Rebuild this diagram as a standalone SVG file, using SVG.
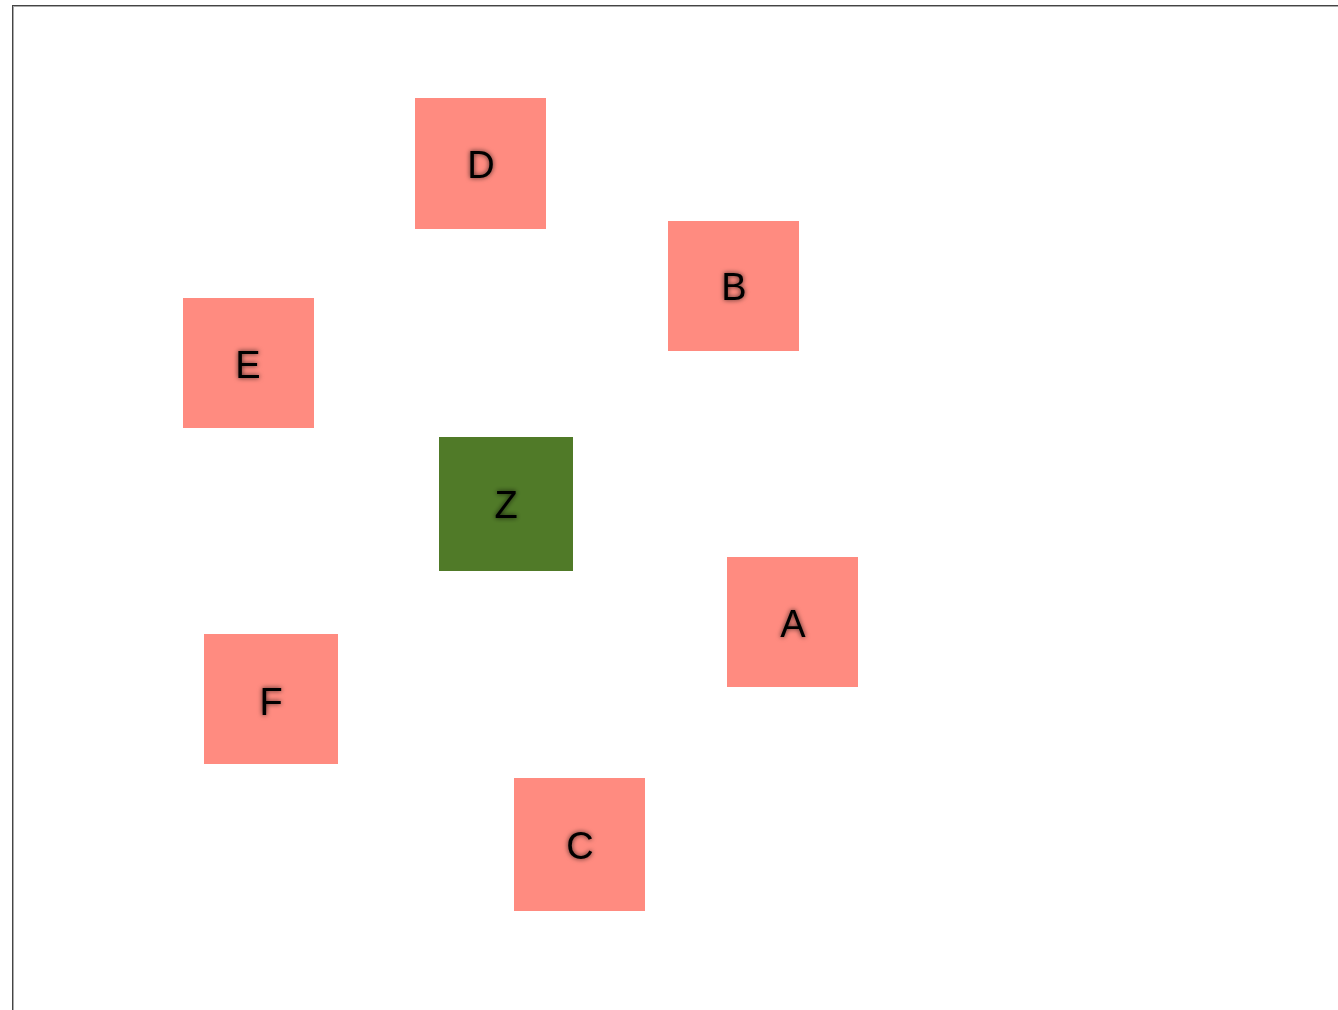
<svg xmlns="http://www.w3.org/2000/svg" width="1338" height="1010" viewBox="0 0 1338 1010">
  <defs>
    <filter id="glow" x="-50%" y="-50%" width="200%" height="200%">
      <feDropShadow dx="0" dy="0" stdDeviation="2.5" flood-color="#000" flood-opacity="0.75"/>
    </filter>
  </defs>
  <style>
    .node { fill: #ff8b80; }
    .root { fill: #507a28; }
    .label { font-family: "Liberation Sans", Arial, sans-serif; font-size: 38px; fill: #000; text-anchor: middle; filter: url(#glow); }
  </style>
  <rect width="1338" height="1010" fill="#fff"/>
  <g id="frame">
    <rect x="13.5" y="6.5" width="1400" height="1100" fill="none" stroke="#aaa" stroke-width="1"/>
    <rect x="12.5" y="5.5" width="1400" height="1100" fill="none" stroke="#444" stroke-width="1"/>
  </g>
  <g id="connectors"></g>
  <g id="node-D">
    <rect class="node" x="415" y="98" width="131" height="131"/>
    <text class="label" x="481" y="178">D</text>
  </g>
  <g id="node-B">
    <rect class="node" x="668" y="221" width="131" height="130"/>
    <text class="label" x="734" y="300">B</text>
  </g>
  <g id="node-E">
    <rect class="node" x="183" y="298" width="131" height="130"/>
    <text class="label" x="248" y="378">E</text>
  </g>
  <g id="node-Z">
    <rect class="root" x="439" y="437" width="134" height="134"/>
    <text class="label" x="506" y="518">Z</text>
  </g>
  <g id="node-A">
    <rect class="node" x="727" y="557" width="131" height="130"/>
    <text class="label" x="793" y="637">A</text>
  </g>
  <g id="node-F">
    <rect class="node" x="204" y="634" width="134" height="130"/>
    <text class="label" x="271" y="715">F</text>
  </g>
  <g id="node-C">
    <rect class="node" x="514" y="778" width="131" height="133"/>
    <text class="label" x="580" y="859">C</text>
  </g>
</svg>
